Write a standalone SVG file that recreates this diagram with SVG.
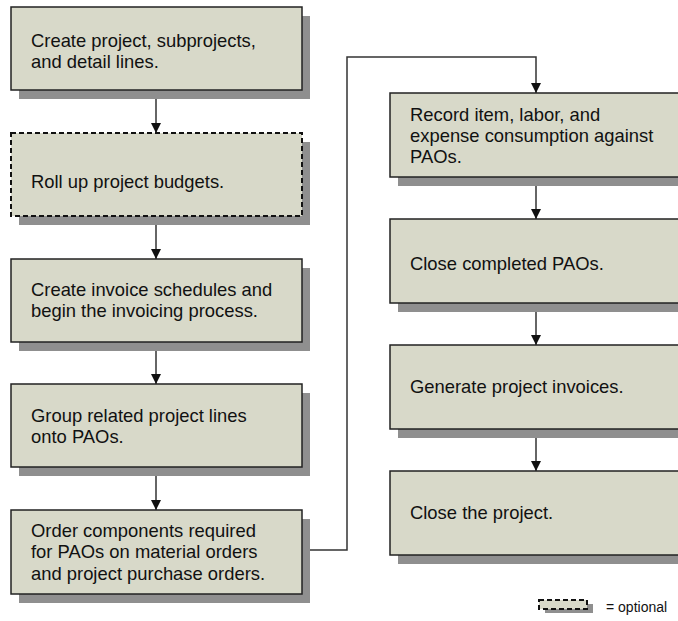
<svg xmlns="http://www.w3.org/2000/svg" width="678" height="621" viewBox="0 0 678 621">
<defs>
<style>
.sh{fill:#8f8f8f}
.bx{fill:#d8d9c9;stroke:#222;stroke-width:1.5}
.opt{stroke:#111;stroke-width:2;stroke-dasharray:5 3}
.t{font-family:"Liberation Sans",Arial,sans-serif;font-size:18.4px;fill:#111}
.lg{font-family:"Liberation Sans",Arial,sans-serif;font-size:14px;fill:#111}
.cn{fill:none;stroke:#333;stroke-width:1.5}
</style>
<marker id="ah" viewBox="0 0 10 10" refX="10" refY="5" markerWidth="10" markerHeight="10" markerUnits="userSpaceOnUse" orient="auto">
<path d="M0,0 L10,5 L0,10 Z" fill="#111"/>
</marker>
</defs>
<rect width="678" height="621" fill="#fff"/>

<g id="connectors">
<line class="cn" x1="156" y1="91" x2="156" y2="133" marker-end="url(#ah)"/>
<line class="cn" x1="156" y1="217" x2="156" y2="259" marker-end="url(#ah)"/>
<line class="cn" x1="156" y1="342" x2="156" y2="384" marker-end="url(#ah)"/>
<line class="cn" x1="156" y1="467" x2="156" y2="510" marker-end="url(#ah)"/>
<polyline class="cn" points="302,550 347,550 347,57 536,57 536,93" marker-end="url(#ah)"/>
<line class="cn" x1="536" y1="177" x2="536" y2="219" marker-end="url(#ah)"/>
<line class="cn" x1="536" y1="303" x2="536" y2="345" marker-end="url(#ah)"/>
<line class="cn" x1="536" y1="429" x2="536" y2="471" marker-end="url(#ah)"/>
</g>

<g id="n1">
<rect class="sh" x="19" y="16" width="291" height="83"/>
<rect class="bx" x="11" y="7" width="291" height="83"/>
<text class="t" x="31" y="46.5">Create project, subprojects,</text>
<text class="t" x="31" y="67.5">and detail lines.</text>
</g>
<g id="n2">
<rect class="sh" x="19" y="142" width="291" height="83"/>
<rect class="bx opt" x="11" y="133" width="291" height="83"/>
<text class="t" x="31" y="188">Roll up project budgets.</text>
</g>
<g id="n3">
<rect class="sh" x="19" y="268" width="291" height="83"/>
<rect class="bx" x="11" y="259" width="291" height="83"/>
<text class="t" x="31" y="296">Create invoice schedules and</text>
<text class="t" x="31" y="317">begin the invoicing process.</text>
</g>
<g id="n4">
<rect class="sh" x="19" y="393" width="291" height="83"/>
<rect class="bx" x="11" y="384" width="291" height="83"/>
<text class="t" x="31" y="421.5">Group related project lines</text>
<text class="t" x="31" y="442.5">onto PAOs.</text>
</g>
<g id="n5">
<rect class="sh" x="19" y="519" width="291" height="84"/>
<rect class="bx" x="11" y="510" width="291" height="84"/>
<text class="t" x="31" y="537">Order components required</text>
<text class="t" x="31" y="558">for PAOs on material orders</text>
<text class="t" x="31" y="579.5">and project purchase orders.</text>
</g>

<g id="r1">
<rect class="sh" x="398" y="102" width="300" height="84"/>
<rect class="bx" x="390" y="93" width="300" height="84"/>
<text class="t" x="410" y="121">Record item, labor, and</text>
<text class="t" x="410" y="142">expense consumption against</text>
<text class="t" x="410" y="163">PAOs.</text>
</g>
<g id="r2">
<rect class="sh" x="398" y="228" width="300" height="84"/>
<rect class="bx" x="390" y="219" width="300" height="84"/>
<text class="t" x="410" y="270">Close completed PAOs.</text>
</g>
<g id="r3">
<rect class="sh" x="398" y="354" width="300" height="84"/>
<rect class="bx" x="390" y="345" width="300" height="84"/>
<text class="t" x="410" y="393">Generate project invoices.</text>
</g>
<g id="r4">
<rect class="sh" x="398" y="480" width="300" height="84"/>
<rect class="bx" x="390" y="471" width="300" height="84"/>
<text class="t" x="410" y="519">Close the project.</text>
</g>

<g id="legend">
<rect class="sh" x="545" y="604" width="48" height="9"/>
<rect class="bx opt" x="539" y="600" width="48" height="9"/>
<text class="lg" x="606" y="612">= optional</text>
</g>
</svg>
